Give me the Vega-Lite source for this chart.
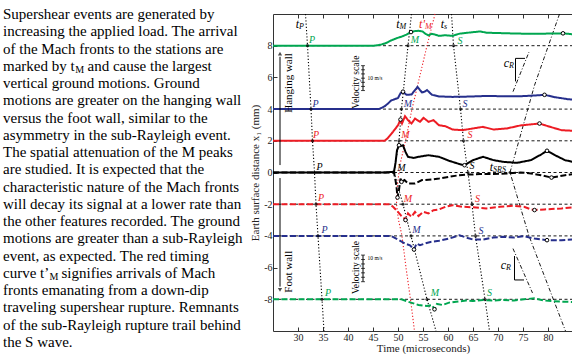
{
"$schema":"https://vega.github.io/schema/vega-lite/v6.json",
"background":"white",
"padding":{"left":3,"top":7,"right":0,"bottom":0},
"bounds":"flush",
"spacing":20,
"config":{"view":{"stroke":null},"font":"Liberation Serif","text":{"font":"Liberation Serif"},
"axis":{"labelFont":"Liberation Serif","titleFont":"Liberation Serif","labelFontSize":10,"titleFontSize":11,"titleFontWeight":"normal","labelColor":"#222","titleColor":"#222","grid":false,"domain":false,"tickColor":"#333","tickSize":-4,"tickWidth":1}},
"datasets":{
"para":[
{"line":0,"pos":0,"text":"Supershear events are generated by"},
{"line":1,"pos":0,"text":"increasing the applied load.  The arrival"},
{"line":2,"pos":0,"text":"of the Mach fronts to the stations are"},
{"line":3,"pos":0,"text":"marked by t"},
{"line":3,"pos":0.338,"text":"and cause the largest"},
{"line":4,"pos":0,"text":"vertical ground motions. Ground"},
{"line":5,"pos":0,"text":"motions are greater on the hanging wall"},
{"line":6,"pos":0,"text":"versus the foot wall, similar to the"},
{"line":7,"pos":0,"text":"asymmetry in the sub-Rayleigh event."},
{"line":8,"pos":0,"text":"The spatial attenuation of the M peaks"},
{"line":9,"pos":0,"text":"are studied.   It is expected that the"},
{"line":10,"pos":0,"text":"characteristic nature of the Mach fronts"},
{"line":11,"pos":0,"text":"will decay its signal at a lower rate than"},
{"line":12,"pos":0,"text":"the other features recorded.  The ground"},
{"line":13,"pos":0,"text":"motions are greater than a sub-Rayleigh"},
{"line":14,"pos":0,"text":"event, as expected.   The red timing"},
{"line":15,"pos":0,"text":"curve t’"},
{"line":15,"pos":0.234,"text":"signifies arrivals of Mach"},
{"line":16,"pos":0,"text":"fronts emanating from a down-dip"},
{"line":17,"pos":0,"text":"traveling supershear rupture. Remnants"},
{"line":18,"pos":0,"text":"of the sub-Rayleigh rupture trail behind"},
{"line":19,"pos":0,"text":"the S wave."}
],
"parasub":[
{"line":3,"pos":0.289,"text":"M"},
{"line":15,"pos":0.186,"text":"M"}
],
"stations":[{"u":8},{"u":4},{"u":2},{"u":0},{"u":-2},{"u":-4},{"u":-8}],
"traces":[
{"station":"8","wall":"hanging","t":25,"u":8},{"station":"8","wall":"hanging","t":45.2,"u":8},{"station":"8","wall":"hanging","t":46.5,"u":8.06},{"station":"8","wall":"hanging","t":47.5,"u":8.15},{"station":"8","wall":"hanging","t":48.6,"u":8.33},{"station":"8","wall":"hanging","t":49.7,"u":8.47},{"station":"8","wall":"hanging","t":50.7,"u":8.57},{"station":"8","wall":"hanging","t":51.7,"u":8.7},{"station":"8","wall":"hanging","t":52.6,"u":8.86},{"station":"8","wall":"hanging","t":53.3,"u":8.92},{"station":"8","wall":"hanging","t":54.1,"u":8.94},{"station":"8","wall":"hanging","t":54.9,"u":8.9},{"station":"8","wall":"hanging","t":55.5,"u":8.75},{"station":"8","wall":"hanging","t":56.1,"u":8.65},{"station":"8","wall":"hanging","t":56.7,"u":8.75},{"station":"8","wall":"hanging","t":57.2,"u":8.72},{"station":"8","wall":"hanging","t":58.2,"u":8.62},{"station":"8","wall":"hanging","t":59.5,"u":8.66},{"station":"8","wall":"hanging","t":60.9,"u":8.62},{"station":"8","wall":"hanging","t":62.3,"u":8.76},{"station":"8","wall":"hanging","t":64.3,"u":8.83},{"station":"8","wall":"hanging","t":66.4,"u":8.9},{"station":"8","wall":"hanging","t":67.7,"u":8.82},{"station":"8","wall":"hanging","t":69.8,"u":8.8},{"station":"8","wall":"hanging","t":73.2,"u":8.77},{"station":"8","wall":"hanging","t":76.6,"u":8.75},{"station":"8","wall":"hanging","t":79.3,"u":8.76},{"station":"8","wall":"hanging","t":83,"u":8.78},{"station":"8","wall":"hanging","t":85,"u":8.72},
{"station":"4","wall":"hanging","t":25,"u":4},{"station":"4","wall":"hanging","t":46.2,"u":4},{"station":"4","wall":"hanging","t":47.3,"u":4.17},{"station":"4","wall":"hanging","t":48,"u":4.35},{"station":"4","wall":"hanging","t":48.6,"u":4.54},{"station":"4","wall":"hanging","t":49.3,"u":4.62},{"station":"4","wall":"hanging","t":50,"u":4.7},{"station":"4","wall":"hanging","t":50.5,"u":5.0},{"station":"4","wall":"hanging","t":51,"u":5.1},{"station":"4","wall":"hanging","t":51.7,"u":4.9},{"station":"4","wall":"hanging","t":52.7,"u":4.92},{"station":"4","wall":"hanging","t":53.4,"u":5.2},{"station":"4","wall":"hanging","t":53.9,"u":5.4},{"station":"4","wall":"hanging","t":54.4,"u":5.2},{"station":"4","wall":"hanging","t":54.8,"u":5.05},{"station":"4","wall":"hanging","t":55.3,"u":5.1},{"station":"4","wall":"hanging","t":55.8,"u":5.2},{"station":"4","wall":"hanging","t":56.3,"u":5.05},{"station":"4","wall":"hanging","t":56.8,"u":4.9},{"station":"4","wall":"hanging","t":58.2,"u":4.8},{"station":"4","wall":"hanging","t":60.9,"u":4.77},{"station":"4","wall":"hanging","t":64.3,"u":4.79},{"station":"4","wall":"hanging","t":67.7,"u":4.83},{"station":"4","wall":"hanging","t":71.1,"u":4.81},{"station":"4","wall":"hanging","t":74.5,"u":4.81},{"station":"4","wall":"hanging","t":78,"u":4.87},{"station":"4","wall":"hanging","t":79.3,"u":4.9},{"station":"4","wall":"hanging","t":81.4,"u":4.75},{"station":"4","wall":"hanging","t":84.1,"u":4.62},{"station":"4","wall":"hanging","t":85,"u":4.6},
{"station":"2","wall":"hanging","t":25,"u":2},{"station":"2","wall":"hanging","t":47.3,"u":2},{"station":"2","wall":"hanging","t":47.9,"u":2.15},{"station":"2","wall":"hanging","t":49,"u":2.57},{"station":"2","wall":"hanging","t":50,"u":2.98},{"station":"2","wall":"hanging","t":50.5,"u":3.34},{"station":"2","wall":"hanging","t":50.8,"u":3.09},{"station":"2","wall":"hanging","t":51.4,"u":3.55},{"station":"2","wall":"hanging","t":52,"u":3.3},{"station":"2","wall":"hanging","t":52.7,"u":3.09},{"station":"2","wall":"hanging","t":53.4,"u":3.4},{"station":"2","wall":"hanging","t":54.4,"u":3.2},{"station":"2","wall":"hanging","t":55.1,"u":3.45},{"station":"2","wall":"hanging","t":56.1,"u":3.2},{"station":"2","wall":"hanging","t":57.1,"u":3.3},{"station":"2","wall":"hanging","t":58.2,"u":2.98},{"station":"2","wall":"hanging","t":59.5,"u":2.92},{"station":"2","wall":"hanging","t":60.9,"u":2.71},{"station":"2","wall":"hanging","t":62.9,"u":2.67},{"station":"2","wall":"hanging","t":65,"u":2.78},{"station":"2","wall":"hanging","t":67,"u":2.88},{"station":"2","wall":"hanging","t":69.1,"u":2.71},{"station":"2","wall":"hanging","t":71.8,"u":2.78},{"station":"2","wall":"hanging","t":74.5,"u":2.97},{"station":"2","wall":"hanging","t":78.3,"u":3.09},{"station":"2","wall":"hanging","t":80,"u":2.92},{"station":"2","wall":"hanging","t":82.7,"u":2.67},{"station":"2","wall":"hanging","t":85,"u":2.63},
{"station":"0","wall":"hanging","t":25,"u":0},{"station":"0","wall":"hanging","t":47.5,"u":0},{"station":"0","wall":"hanging","t":49.2,"u":0.05},{"station":"0","wall":"hanging","t":49.5,"u":0.6},{"station":"0","wall":"hanging","t":49.8,"u":1.4},{"station":"0","wall":"hanging","t":50.2,"u":1.72},{"station":"0","wall":"hanging","t":50.5,"u":1.66},{"station":"0","wall":"hanging","t":51,"u":1.72},{"station":"0","wall":"hanging","t":51.5,"u":1.3},{"station":"0","wall":"hanging","t":52,"u":0.99},{"station":"0","wall":"hanging","t":53.1,"u":0.92},{"station":"0","wall":"hanging","t":54.1,"u":0.99},{"station":"0","wall":"hanging","t":56.1,"u":1.09},{"station":"0","wall":"hanging","t":58.2,"u":0.99},{"station":"0","wall":"hanging","t":60.2,"u":0.74},{"station":"0","wall":"hanging","t":62.3,"u":0.53},{"station":"0","wall":"hanging","t":63.3,"u":0.46},{"station":"0","wall":"hanging","t":65,"u":0.78},{"station":"0","wall":"hanging","t":67,"u":0.99},{"station":"0","wall":"hanging","t":69.1,"u":0.78},{"station":"0","wall":"hanging","t":71.1,"u":0.67},{"station":"0","wall":"hanging","t":73.8,"u":0.61},{"station":"0","wall":"hanging","t":76.6,"u":0.78},{"station":"0","wall":"hanging","t":78.6,"u":1.13},{"station":"0","wall":"hanging","t":79.8,"u":1.37},{"station":"0","wall":"hanging","t":81.4,"u":1.09},{"station":"0","wall":"hanging","t":83.4,"u":0.78},{"station":"0","wall":"hanging","t":85,"u":0.67},
{"station":"0","wall":"foot","t":25,"u":0},{"station":"0","wall":"foot","t":49.2,"u":0},{"station":"0","wall":"foot","t":49.5,"u":-0.5},{"station":"0","wall":"foot","t":49.7,"u":-0.9},{"station":"0","wall":"foot","t":49.9,"u":-1.58},{"station":"0","wall":"foot","t":50.2,"u":-1.1},{"station":"0","wall":"foot","t":50.5,"u":-0.38},{"station":"0","wall":"foot","t":50.7,"u":-0.59},{"station":"0","wall":"foot","t":51.3,"u":-0.48},{"station":"0","wall":"foot","t":52,"u":-0.69},{"station":"0","wall":"foot","t":53.4,"u":-0.69},{"station":"0","wall":"foot","t":54.8,"u":-0.48},{"station":"0","wall":"foot","t":56.8,"u":-0.44},{"station":"0","wall":"foot","t":58.2,"u":-0.38},{"station":"0","wall":"foot","t":60.2,"u":-0.27},{"station":"0","wall":"foot","t":62.3,"u":-0.17},{"station":"0","wall":"foot","t":64.3,"u":-0.13},{"station":"0","wall":"foot","t":66.4,"u":-0.1},{"station":"0","wall":"foot","t":69.1,"u":-0.1},{"station":"0","wall":"foot","t":71.8,"u":-0.06},{"station":"0","wall":"foot","t":74.5,"u":0},{"station":"0","wall":"foot","t":76.6,"u":-0.06},{"station":"0","wall":"foot","t":78.6,"u":-0.17},{"station":"0","wall":"foot","t":80.7,"u":-0.32},{"station":"0","wall":"foot","t":83.4,"u":-0.17},{"station":"0","wall":"foot","t":85,"u":-0.1},
{"station":"-2","wall":"foot","t":25,"u":-2},{"station":"-2","wall":"foot","t":48.3,"u":-2},{"station":"-2","wall":"foot","t":49,"u":-2.16},{"station":"-2","wall":"foot","t":50,"u":-2.48},{"station":"-2","wall":"foot","t":50.7,"u":-2.75},{"station":"-2","wall":"foot","t":51.3,"u":-2.9},{"station":"-2","wall":"foot","t":51.5,"u":-3.0},{"station":"-2","wall":"foot","t":52,"u":-2.58},{"station":"-2","wall":"foot","t":52.7,"u":-2.8},{"station":"-2","wall":"foot","t":53.4,"u":-2.48},{"station":"-2","wall":"foot","t":54.1,"u":-2.75},{"station":"-2","wall":"foot","t":55.1,"u":-2.48},{"station":"-2","wall":"foot","t":56.1,"u":-2.58},{"station":"-2","wall":"foot","t":57.1,"u":-2.38},{"station":"-2","wall":"foot","t":58.2,"u":-2.33},{"station":"-2","wall":"foot","t":59.5,"u":-2.16},{"station":"-2","wall":"foot","t":60.9,"u":-2.06},{"station":"-2","wall":"foot","t":62.9,"u":-2.16},{"station":"-2","wall":"foot","t":65,"u":-2.2},{"station":"-2","wall":"foot","t":67.7,"u":-2.27},{"station":"-2","wall":"foot","t":70.4,"u":-2.16},{"station":"-2","wall":"foot","t":73.2,"u":-2.1},{"station":"-2","wall":"foot","t":75.2,"u":-2.16},{"station":"-2","wall":"foot","t":76.6,"u":-2.33},{"station":"-2","wall":"foot","t":77.3,"u":-2.37},{"station":"-2","wall":"foot","t":79.3,"u":-2.33},{"station":"-2","wall":"foot","t":82.7,"u":-2.27},{"station":"-2","wall":"foot","t":85,"u":-2.2},
{"station":"-4","wall":"foot","t":25,"u":-4},{"station":"-4","wall":"foot","t":48.6,"u":-4},{"station":"-4","wall":"foot","t":50,"u":-4.23},{"station":"-4","wall":"foot","t":51.4,"u":-4.48},{"station":"-4","wall":"foot","t":52.4,"u":-4.59},{"station":"-4","wall":"foot","t":53.2,"u":-4.86},{"station":"-4","wall":"foot","t":53.7,"u":-4.48},{"station":"-4","wall":"foot","t":54.4,"u":-4.59},{"station":"-4","wall":"foot","t":55.4,"u":-4.48},{"station":"-4","wall":"foot","t":56.5,"u":-4.38},{"station":"-4","wall":"foot","t":58.2,"u":-4.31},{"station":"-4","wall":"foot","t":60.2,"u":-4.17},{"station":"-4","wall":"foot","t":62.3,"u":-3.96},{"station":"-4","wall":"foot","t":63.6,"u":-4.1},{"station":"-4","wall":"foot","t":65,"u":-4.23},{"station":"-4","wall":"foot","t":67,"u":-4.23},{"station":"-4","wall":"foot","t":69.1,"u":-4.1},{"station":"-4","wall":"foot","t":71.1,"u":-4.06},{"station":"-4","wall":"foot","t":73.2,"u":-4.1},{"station":"-4","wall":"foot","t":75.2,"u":-4.02},{"station":"-4","wall":"foot","t":77.3,"u":-4.17},{"station":"-4","wall":"foot","t":79.8,"u":-4.27},{"station":"-4","wall":"foot","t":82.7,"u":-4.27},{"station":"-4","wall":"foot","t":85,"u":-4.23},
{"station":"-8","wall":"foot","t":25,"u":-8},{"station":"-8","wall":"foot","t":50.7,"u":-8},{"station":"-8","wall":"foot","t":52,"u":-8.15},{"station":"-8","wall":"foot","t":54.1,"u":-8.36},{"station":"-8","wall":"foot","t":55.8,"u":-8.42},{"station":"-8","wall":"foot","t":56.8,"u":-8.36},{"station":"-8","wall":"foot","t":57.3,"u":-8.63},{"station":"-8","wall":"foot","t":57.8,"u":-8.29},{"station":"-8","wall":"foot","t":58.9,"u":-8.36},{"station":"-8","wall":"foot","t":60.2,"u":-8.21},{"station":"-8","wall":"foot","t":61.6,"u":-8.15},{"station":"-8","wall":"foot","t":63.6,"u":-8.08},{"station":"-8","wall":"foot","t":65,"u":-8.1},{"station":"-8","wall":"foot","t":67,"u":-8.04},{"station":"-8","wall":"foot","t":69.1,"u":-8.08},{"station":"-8","wall":"foot","t":71.1,"u":-8.04},{"station":"-8","wall":"foot","t":73.2,"u":-8.08},{"station":"-8","wall":"foot","t":75.2,"u":-8},{"station":"-8","wall":"foot","t":77.3,"u":-7.94},{"station":"-8","wall":"foot","t":79.3,"u":-8.08},{"station":"-8","wall":"foot","t":82.7,"u":-8.15},{"station":"-8","wall":"foot","t":85,"u":-8.17}
],
"timing":[
{"curve":"tP","seq":0,"t":31.5,"u":10},{"curve":"tP","seq":1,"t":31.9,"u":8},{"curve":"tP","seq":2,"t":32.6,"u":4},{"curve":"tP","seq":3,"t":32.9,"u":2},{"curve":"tP","seq":4,"t":33.3,"u":0},{"curve":"tP","seq":5,"t":33.6,"u":-2},{"curve":"tP","seq":6,"t":34.0,"u":-4},{"curve":"tP","seq":7,"t":34.8,"u":-8},{"curve":"tP","seq":8,"t":35.2,"u":-10},
{"curve":"tM","seq":0,"t":52.7,"u":10},{"curve":"tM","seq":1,"t":52.0,"u":8},{"curve":"tM","seq":2,"t":50.7,"u":4},{"curve":"tM","seq":3,"t":50.2,"u":2},{"curve":"tM","seq":4,"t":49.2,"u":0},{"curve":"tM","seq":5,"t":51.0,"u":-2},{"curve":"tM","seq":6,"t":52.6,"u":-4},{"curve":"tM","seq":7,"t":55.8,"u":-8},{"curve":"tM","seq":8,"t":57.6,"u":-10},
{"curve":"ts","seq":0,"t":60.7,"u":10},{"curve":"ts","seq":1,"t":61.1,"u":8},{"curve":"ts","seq":2,"t":62.5,"u":4},{"curve":"ts","seq":3,"t":63.1,"u":2},{"curve":"ts","seq":4,"t":64.0,"u":0},{"curve":"ts","seq":5,"t":64.8,"u":-2},{"curve":"ts","seq":6,"t":65.5,"u":-4},{"curve":"ts","seq":7,"t":67.4,"u":-8},{"curve":"ts","seq":8,"t":68.3,"u":-10},
{"curve":"tMp","seq":0,"t":57.4,"u":10},{"curve":"tMp","seq":1,"t":55.8,"u":8},{"curve":"tMp","seq":2,"t":54.3,"u":6},{"curve":"tMp","seq":3,"t":52.8,"u":4},{"curve":"tMp","seq":4,"t":51.5,"u":2},{"curve":"tMp","seq":5,"t":50.4,"u":0.5},{"curve":"tMp","seq":6,"t":49.8,"u":-1},{"curve":"tMp","seq":7,"t":49.7,"u":-2},{"curve":"tMp","seq":8,"t":50.1,"u":-3},{"curve":"tMp","seq":9,"t":50.8,"u":-4},{"curve":"tMp","seq":10,"t":51.6,"u":-6},{"curve":"tMp","seq":11,"t":52.5,"u":-8},{"curve":"tMp","seq":12,"t":53.3,"u":-10},
{"curve":"tSRS","seq":0,"t":82.3,"u":10},{"curve":"tSRS","seq":1,"t":77.3,"u":5.5},{"curve":"tSRS","seq":2,"t":72.4,"u":0},{"curve":"tSRS","seq":3,"t":76.2,"u":-4},{"curve":"tSRS","seq":4,"t":83.5,"u":-10},
{"curve":"cR1","seq":0,"t":73.0,"u":5.1},{"curve":"cR1","seq":1,"t":76.2,"u":7.6},
{"curve":"cR2","seq":0,"t":73.0,"u":-4.8},{"curve":"cR2","seq":1,"t":76.9,"u":-7.6}
],
"tri":[
{"shape":"upper","seq":0,"t":73.5,"u":5.75},{"shape":"upper","seq":1,"t":73.5,"u":7.2},{"shape":"upper","seq":2,"t":75.4,"u":7.2},
{"shape":"lower","seq":0,"t":73.3,"u":-5.27},{"shape":"lower","seq":1,"t":73.3,"u":-6.78},{"shape":"lower","seq":2,"t":75.2,"u":-6.78}
],
"dots":[
{"t":31.9,"u":8},{"t":32.6,"u":4},{"t":32.9,"u":2},{"t":33.3,"u":0},{"t":33.6,"u":-2},{"t":34.0,"u":-4},{"t":34.8,"u":-8},
{"t":52.0,"u":8},{"t":50.7,"u":4},{"t":50.2,"u":2},{"t":49.2,"u":0},{"t":51.0,"u":-2},{"t":52.6,"u":-4},{"t":55.8,"u":-8},
{"t":61.1,"u":8},{"t":62.5,"u":4},{"t":63.1,"u":2},{"t":64.0,"u":0},{"t":64.8,"u":-2},{"t":65.5,"u":-4},{"t":67.4,"u":-8},
{"t":72.4,"u":0}
],
"circles":[
{"t":52.6,"u":8.86},{"t":83,"u":8.78},{"t":51,"u":5.1},{"t":79.3,"u":4.9},{"t":50.5,"u":3.34},{"t":78.3,"u":3.09},
{"t":50.2,"u":1.72},{"t":63.3,"u":0.46},{"t":79.8,"u":1.37},{"t":49.9,"u":-1.58},{"t":50.7,"u":-0.59},{"t":80.7,"u":-0.32},
{"t":51.5,"u":-3.0},{"t":77.3,"u":-2.37},{"t":53.2,"u":-4.86},{"t":79.8,"u":-4.27},{"t":57.3,"u":-8.63}
],
"letters":[
{"station":"8","letter":"P","t":32.8,"u":8.36},{"station":"4","letter":"P","t":33.5,"u":4.3},{"station":"2","letter":"P","t":33.6,"u":2.35},{"station":"0","letter":"P","t":34.3,"u":0.36},{"station":"-2","letter":"P","t":34.6,"u":-1.64},{"station":"-4","letter":"P","t":35.3,"u":-3.6},{"station":"-8","letter":"P","t":36.0,"u":-7.62},
{"station":"8","letter":"M","t":53.4,"u":8.36},{"station":"4","letter":"M","t":52.0,"u":4.3},{"station":"2","letter":"M","t":51.5,"u":2.35},{"station":"0","letter":"M","t":50.7,"u":0.3},{"station":"-2","letter":"M","t":52.0,"u":-1.7},{"station":"-4","letter":"M","t":53.7,"u":-3.6},{"station":"-8","letter":"M","t":57.4,"u":-7.62},
{"station":"8","letter":"S","t":62.4,"u":8.27},{"station":"4","letter":"S","t":63.4,"u":4.3},{"station":"2","letter":"S","t":64.4,"u":2.35},{"station":"0","letter":"S","t":64.8,"u":0.4},{"station":"-2","letter":"S","t":65.9,"u":-1.7},{"station":"-4","letter":"S","t":66.6,"u":-3.7},{"station":"-8","letter":"S","t":68.3,"u":-7.62}
],
"tlabels":[
{"name":"tP","main":"t","sub":"P","t":30.2,"u":9.36,"red":false},
{"name":"tM","main":"t","sub":"M","t":50.3,"u":9.36,"red":false},
{"name":"tMp","main":"t'","sub":"M","t":55.4,"u":9.36,"red":true},
{"name":"ts","main":"t","sub":"s","t":59.2,"u":9.36,"red":false},
{"name":"tSRS","main":"t","sub":"SRS","t":69.0,"u":0.36,"red":false},
{"name":"cR1","main":"c","sub":"R","t":72.2,"u":6.89,"red":false},
{"name":"cR2","main":"c","sub":"R","t":71.6,"u":-5.84,"red":false}
],
"walls":[{"name":"Hanging wall","t":28.2,"u":5.65},{"name":"Foot wall","t":28.2,"u":-6.26}],
"arrows":[{"dir":"up","t":26.4,"u1":0.47,"u2":7.3,"tip":7.5},{"dir":"down","t":26.4,"u1":-0.35,"u2":-7.2,"tip":-7.4}],
"vbars":[{"t":43.0,"u1":5.17,"u2":6.74},{"t":43.0,"u1":-5.21,"u2":-6.89}],
"vticks":[{"t":43.0,"u":5.17},{"t":43.0,"u":5.43},{"t":43.0,"u":5.69},{"t":43.0,"u":5.95},{"t":43.0,"u":6.22},{"t":43.0,"u":6.48},{"t":43.0,"u":6.74},
{"t":43.0,"u":-5.21},{"t":43.0,"u":-5.49},{"t":43.0,"u":-5.77},{"t":43.0,"u":-6.05},{"t":43.0,"u":-6.33},{"t":43.0,"u":-6.61},{"t":43.0,"u":-6.89}],
"vtexts":[{"name":"Velocity scale","t":41.6,"u":5.7},{"name":"Velocity scale","t":41.5,"u":-5.99}],
"vunits":[{"name":"10 m/s","t":43.9,"u":5.97},{"name":"10 m/s","t":43.9,"u":-5.42}]
},
"hconcat":[
{
"width":250,"height":328,
"layer":[
{"data":{"name":"para"},
"mark":{"type":"text","align":"left","baseline":"middle","fontSize":15,"font":"Liberation Serif","color":"#000"},
"encoding":{"x":{"field":"pos","type":"quantitative","scale":{"domain":[0,1],"nice":false},"axis":null},
"y":{"field":"line","type":"quantitative","scale":{"domain":[0,19],"reverse":true,"nice":false,"zero":false},"axis":null},
"text":{"field":"text"}}},
{"data":{"name":"parasub"},
"mark":{"type":"text","align":"left","baseline":"middle","fontSize":10,"dy":4,"font":"Liberation Serif","color":"#000"},
"encoding":{"x":{"field":"pos","type":"quantitative","scale":{"domain":[0,1],"nice":false},"axis":null},
"y":{"field":"line","type":"quantitative","scale":{"domain":[0,19],"reverse":true,"nice":false,"zero":false},"axis":null},
"text":{"field":"text"}}}
]
},
{
"width":300,"height":317,
"view":{"stroke":"#333","strokeWidth":1},
"resolve":{"axis":{"x":"independent","y":"independent"}},
"layer":[
{"data":{"name":"stations"},
"mark":{"type":"rule","strokeDash":[3,2.5],"color":"#000","strokeWidth":0.9},
"encoding":{"y":{"field":"u","type":"quantitative","scale":{"domain":[-10,10],"nice":false,"zero":false},"axis":null}}},
{"data":{"name":"timing"},"transform":[{"filter":{"field":"curve","oneOf":["tP","tM","ts"]}}],
"mark":{"type":"line","strokeDash":[1.2,2],"color":"#000","strokeWidth":1.1},
"encoding":{"x":{"field":"t","type":"quantitative","scale":{"domain":[25,85],"nice":false,"zero":false},
"axis":{"orient":"bottom","values":[30,35,40,45,50,55,60,65,70,75,80],"title":"Time (microseconds)","labelPadding":5,"titlePadding":0}},
"y":{"field":"u","type":"quantitative","scale":{"domain":[-10,10],"nice":false,"zero":false},
"axis":{"orient":"left","values":[-8,-6,-4,-2,0,2,4,6,8],"labelExpr":"''+datum.value","title":"Earth surface distance x₁ (mm)","labelPadding":5,"titlePadding":3}},
"detail":{"field":"curve"},"order":{"field":"seq"}}},
{"data":{"name":"timing"},"transform":[{"filter":{"field":"curve","equal":"tMp"}}],
"mark":{"type":"line","strokeDash":[1.2,2],"color":"#ed1c24","strokeWidth":1.1},
"encoding":{"x":{"field":"t","type":"quantitative","scale":{"domain":[25,85],"nice":false,"zero":false},"axis":null},
"y":{"field":"u","type":"quantitative","scale":{"domain":[-10,10],"nice":false,"zero":false},"axis":null},
"order":{"field":"seq"}}},
{"data":{"name":"timing"},"transform":[{"filter":{"field":"curve","oneOf":["tSRS","cR1","cR2"]}}],
"mark":{"type":"line","strokeDash":[4,2,1,2],"color":"#000","strokeWidth":0.9},
"encoding":{"x":{"field":"t","type":"quantitative","scale":{"domain":[25,85],"nice":false,"zero":false},"axis":null},
"y":{"field":"u","type":"quantitative","scale":{"domain":[-10,10],"nice":false,"zero":false},"axis":null},
"detail":{"field":"curve"},"order":{"field":"seq"}}},
{"data":{"name":"tri"},
"mark":{"type":"line","color":"#000","strokeWidth":1},
"encoding":{"x":{"field":"t","type":"quantitative","scale":{"domain":[25,85],"nice":false,"zero":false},"axis":null},
"y":{"field":"u","type":"quantitative","scale":{"domain":[-10,10],"nice":false,"zero":false},"axis":null},
"detail":{"field":"shape"},"order":{"field":"seq"}}},
{"data":{"name":"traces"},
"mark":{"type":"line","strokeWidth":2},
"encoding":{"x":{"field":"t","type":"quantitative","scale":{"domain":[25,85],"nice":false,"zero":false},"axis":null},
"y":{"field":"u","type":"quantitative","scale":{"domain":[-10,10],"nice":false,"zero":false},"axis":null},
"color":{"field":"station","type":"nominal","scale":{"domain":["8","4","2","0","-2","-4","-8"],"range":["#00a650","#262f8c","#ed1c24","#000000","#ed1c24","#262f8c","#00a650"]},"legend":null},
"strokeDash":{"field":"wall","type":"nominal","scale":{"domain":["hanging","foot"],"range":[[1,0],[6,2.5]]},"legend":null},
"order":{"field":"t"}}},
{"data":{"name":"vbars"},
"mark":{"type":"rule","color":"#000","strokeWidth":1},
"encoding":{"x":{"field":"t","type":"quantitative","scale":{"domain":[25,85],"nice":false,"zero":false},"axis":null},
"y":{"field":"u1","type":"quantitative","scale":{"domain":[-10,10],"nice":false,"zero":false},"axis":null},
"y2":{"field":"u2"}}},
{"data":{"name":"vticks"},
"mark":{"type":"point","shape":"stroke","size":16,"color":"#000","strokeWidth":1,"filled":false},
"encoding":{"x":{"field":"t","type":"quantitative","scale":{"domain":[25,85],"nice":false,"zero":false},"axis":null},
"y":{"field":"u","type":"quantitative","scale":{"domain":[-10,10],"nice":false,"zero":false},"axis":null}}},
{"data":{"name":"vtexts"},
"mark":{"type":"text","angle":270,"fontSize":9.5,"align":"center","baseline":"middle","color":"#000"},
"encoding":{"x":{"field":"t","type":"quantitative","scale":{"domain":[25,85],"nice":false,"zero":false},"axis":null},
"y":{"field":"u","type":"quantitative","scale":{"domain":[-10,10],"nice":false,"zero":false},"axis":null},
"text":{"field":"name"}}},
{"data":{"name":"vunits"},
"mark":{"type":"text","fontSize":5.5,"align":"left","baseline":"middle","color":"#000"},
"encoding":{"x":{"field":"t","type":"quantitative","scale":{"domain":[25,85],"nice":false,"zero":false},"axis":null},
"y":{"field":"u","type":"quantitative","scale":{"domain":[-10,10],"nice":false,"zero":false},"axis":null},
"text":{"field":"name"}}},
{"data":{"name":"arrows"},
"mark":{"type":"rule","color":"#000","strokeWidth":1},
"encoding":{"x":{"field":"t","type":"quantitative","scale":{"domain":[25,85],"nice":false,"zero":false},"axis":null},
"y":{"field":"u1","type":"quantitative","scale":{"domain":[-10,10],"nice":false,"zero":false},"axis":null},
"y2":{"field":"u2"}}},
{"data":{"name":"arrows"},
"mark":{"type":"point","filled":true,"size":18,"color":"#000"},
"encoding":{"x":{"field":"t","type":"quantitative","scale":{"domain":[25,85],"nice":false,"zero":false},"axis":null},
"y":{"field":"tip","type":"quantitative","scale":{"domain":[-10,10],"nice":false,"zero":false},"axis":null},
"shape":{"field":"dir","type":"nominal","scale":{"domain":["up","down"],"range":["triangle-up","triangle-down"]},"legend":null}}},
{"data":{"name":"walls"},
"mark":{"type":"text","angle":270,"fontSize":11,"align":"center","baseline":"middle","color":"#000"},
"encoding":{"x":{"field":"t","type":"quantitative","scale":{"domain":[25,85],"nice":false,"zero":false},"axis":null},
"y":{"field":"u","type":"quantitative","scale":{"domain":[-10,10],"nice":false,"zero":false},"axis":null},
"text":{"field":"name"}}},
{"data":{"name":"dots"},
"mark":{"type":"point","filled":true,"size":10,"color":"#000"},
"encoding":{"x":{"field":"t","type":"quantitative","scale":{"domain":[25,85],"nice":false,"zero":false},
"axis":{"orient":"top","values":[30,35,40,45,50,55,60,65,70,75,80],"labels":false,"title":null}},
"y":{"field":"u","type":"quantitative","scale":{"domain":[-10,10],"nice":false,"zero":false},"axis":null}}},
{"data":{"name":"circles"},
"mark":{"type":"point","filled":false,"fill":"white","stroke":"#000","size":13,"strokeWidth":1,"opacity":1},
"encoding":{"x":{"field":"t","type":"quantitative","scale":{"domain":[25,85],"nice":false,"zero":false},"axis":null},
"y":{"field":"u","type":"quantitative","scale":{"domain":[-10,10],"nice":false,"zero":false},"axis":null}}},
{"data":{"name":"letters"},
"mark":{"type":"text","fontSize":10,"fontStyle":"italic","align":"center","baseline":"middle"},
"encoding":{"x":{"field":"t","type":"quantitative","scale":{"domain":[25,85],"nice":false,"zero":false},"axis":null},
"y":{"field":"u","type":"quantitative","scale":{"domain":[-10,10],"nice":false,"zero":false},"axis":null},
"color":{"field":"station","type":"nominal","scale":{"domain":["8","4","2","0","-2","-4","-8"],"range":["#00a650","#262f8c","#ed1c24","#000000","#ed1c24","#262f8c","#00a650"]},"legend":null},
"text":{"field":"letter"}}},
{"data":{"name":"tlabels"},"transform":[{"filter":"!datum.red"}],
"mark":{"type":"text","fontSize":12,"fontStyle":"italic","align":"right","baseline":"middle","color":"#000"},
"encoding":{"x":{"field":"t","type":"quantitative","scale":{"domain":[25,85],"nice":false,"zero":false},"axis":null},
"y":{"field":"u","type":"quantitative","scale":{"domain":[-10,10],"nice":false,"zero":false},"axis":null},
"text":{"field":"main"}}},
{"data":{"name":"tlabels"},"transform":[{"filter":"!datum.red"}],
"mark":{"type":"text","fontSize":8,"fontStyle":"italic","align":"left","baseline":"middle","dy":3,"color":"#000"},
"encoding":{"x":{"field":"t","type":"quantitative","scale":{"domain":[25,85],"nice":false,"zero":false},"axis":null},
"y":{"field":"u","type":"quantitative","scale":{"domain":[-10,10],"nice":false,"zero":false},"axis":null},
"text":{"field":"sub"}}},
{"data":{"name":"tlabels"},"transform":[{"filter":"datum.red"}],
"mark":{"type":"text","fontSize":12,"fontStyle":"italic","align":"right","baseline":"middle","color":"#ed1c24"},
"encoding":{"x":{"field":"t","type":"quantitative","scale":{"domain":[25,85],"nice":false,"zero":false},"axis":null},
"y":{"field":"u","type":"quantitative","scale":{"domain":[-10,10],"nice":false,"zero":false},"axis":null},
"text":{"field":"main"}}},
{"data":{"name":"tlabels"},"transform":[{"filter":"datum.red"}],
"mark":{"type":"text","fontSize":8,"fontStyle":"italic","align":"left","baseline":"middle","dy":3,"color":"#ed1c24"},
"encoding":{"x":{"field":"t","type":"quantitative","scale":{"domain":[25,85],"nice":false,"zero":false},"axis":null},
"y":{"field":"u","type":"quantitative","scale":{"domain":[-10,10],"nice":false,"zero":false},"axis":null},
"text":{"field":"sub"}}}
]
}
]
}
